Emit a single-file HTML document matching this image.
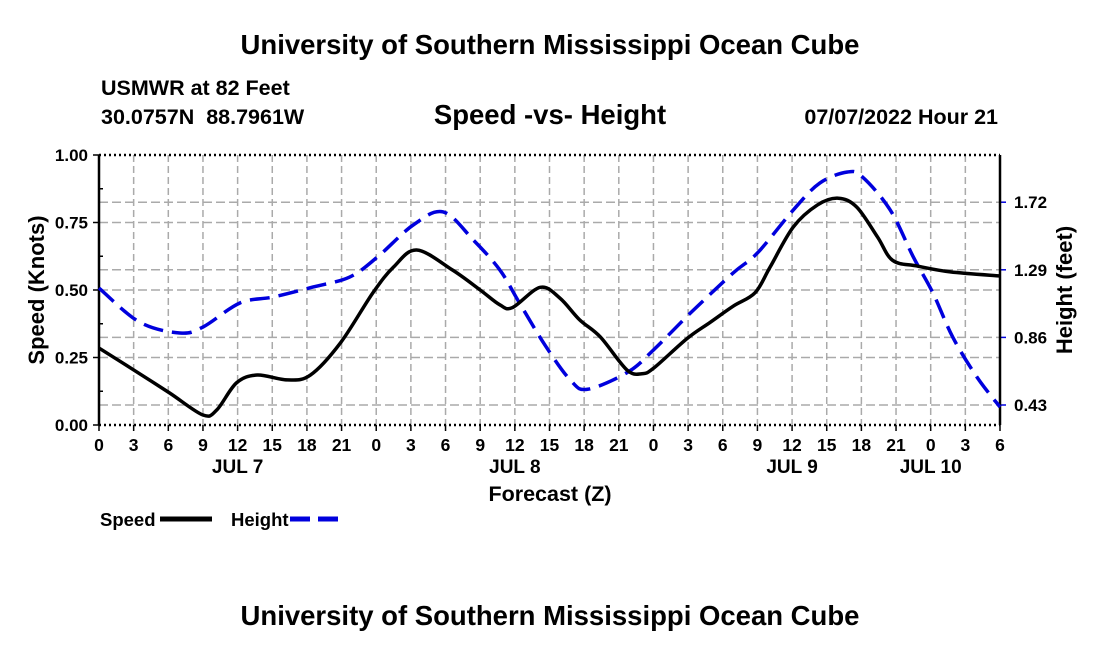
<!DOCTYPE html>
<html><head><meta charset="utf-8"><style>
body{margin:0;background:#fff;}
svg text{font-family:"Liberation Sans",Arial,sans-serif;font-weight:bold;fill:#000;}
</style></head><body>
<svg id="chart" width="1100" height="650" xmlns="http://www.w3.org/2000/svg">
<text x="550" y="54" text-anchor="middle" font-size="27.5">University of Southern Mississippi Ocean Cube</text>
<text x="101" y="95" font-size="21.5">USMWR at 82 Feet</text>
<text x="101" y="124" font-size="21.5">30.0757N&#160;&#160;88.7961W</text>
<text x="550" y="124" text-anchor="middle" font-size="27.5">Speed -vs- Height</text>
<text x="998" y="124" text-anchor="end" font-size="21.5">07/07/2022 Hour 21</text>
<g id="grid"></g>
<g id="axes"></g>
<g id="series"></g>
<text transform="translate(44,290) rotate(-90)" text-anchor="middle" font-size="22">Speed (Knots)</text>
<text transform="translate(1072,290) rotate(-90)" text-anchor="middle" font-size="22">Height (feet)</text>
<text x="550" y="501" text-anchor="middle" font-size="21.5">Forecast (Z)</text>
<g>
<text x="100" y="526" font-size="18.5">Speed</text>
<line x1="160" y1="519" x2="212" y2="519" stroke="#000" stroke-width="5"/>
<text x="231" y="526" font-size="18.5">Height</text>
<line x1="290" y1="519" x2="342" y2="519" stroke="#0000dd" stroke-width="5" stroke-dasharray="20,8"/>
</g>
<text x="550" y="625" text-anchor="middle" font-size="27.5">University of Southern Mississippi Ocean Cube</text>
</svg>
<script>
const xTickLabels=["0","3","6","9","12","15","18","21","0","3","6","9","12","15","18","21","0","3","6","9","12","15","18","21","0","3","6"];
const dayLabels=["JUL 7","JUL 8","JUL 9","JUL 10"];
const dayHours=[12,36,60,72];
const speedTicks=[0,0.25,0.5,0.75,1.0];
const speedTickLabels=["0.00","0.25","0.50","0.75","1.00"];
const heightTicks=[0.43,0.86,1.29,1.72];
const speedHours=[0,3.0,6.1,9.0,10.2,11.9,13.7,16.3,18.3,20.9,23.7,25.5,27.5,30.6,33.0,34.7,35.8,38.2,39.9,41.6,43.4,45.7,47.0,48.0,50.9,52.9,54.9,56.8,58.1,60.1,62.2,64.0,65.6,67.4,68.7,70.8,73.7,78];
const speedValues=[0.285,0.204,0.119,0.037,0.056,0.156,0.185,0.167,0.185,0.304,0.489,0.585,0.648,0.574,0.5,0.445,0.435,0.51,0.47,0.39,0.326,0.204,0.19,0.21,0.32,0.38,0.44,0.49,0.585,0.733,0.815,0.84,0.807,0.696,0.61,0.589,0.567,0.552];
const heightHours=[0,3.5,7.0,9.0,12.2,15.1,18.5,21.7,24.1,27.2,29.8,32.4,34.7,36.4,38.6,40.8,42.3,45.8,48.0,51.2,54.9,57.0,60.1,62.4,64.8,66.1,68.5,70.5,72.2,73.9,76.0,78];
const heightValues=[1.174,0.958,0.888,0.926,1.079,1.117,1.18,1.244,1.371,1.575,1.658,1.48,1.289,1.079,0.812,0.589,0.53,0.64,0.78,1.015,1.27,1.397,1.67,1.842,1.912,1.88,1.67,1.371,1.142,0.863,0.608,0.417];

const X0=99,X1=1000,Y0=425,Y1=155;
const x=h=>X0+(h/78)*(X1-X0);
const ys=v=>Y0-v*(Y0-Y1);
const H_PER_PX=0.43/67.6;
const yh=v=>405-(v-0.43)/H_PER_PX;
const NS="http://www.w3.org/2000/svg";
function mk(parent,tag,attrs){const e=document.createElementNS(NS,tag);for(const k in attrs)e.setAttribute(k,attrs[k]);parent.appendChild(e);return e;}
const grid=document.getElementById('grid'),axes=document.getElementById('axes'),series=document.getElementById('series');
xTickLabels.forEach((l,i)=>{const xx=x(i*3);
 if(i>0&&i<xTickLabels.length-1){const g=mk(grid,'line',{x1:xx,x2:xx,y1:Y1,y2:Y0,stroke:'#aaa','stroke-width':1.5,'stroke-dasharray':'7,4'});
 
 }
 const t=mk(axes,'line',{x1:xx,x2:xx,y1:Y0,y2:Y0+6,stroke:'#000','stroke-width':1.5});
 
 
 const tt=mk(axes,'text',{x:xx,y:451,'text-anchor':'middle','font-size':17.5});tt.textContent=l;
 
 
});
dayLabels.forEach((l,i)=>{const tt=mk(axes,'text',{x:x(dayHours[i]),y:473,'text-anchor':'middle','font-size':19});tt.textContent=l;
 
 });
speedTicks.forEach((v,i)=>{const yy=ys(v);
 if(i>0&&i<speedTicks.length-1){const g=mk(grid,'line',{x1:X0,x2:X1,y1:yy,y2:yy,stroke:'#aaa','stroke-width':1.5,'stroke-dasharray':'9,4'});
 
 }
 const t=mk(axes,'line',{x1:X0-6,x2:X0,y1:yy,y2:yy,stroke:'#000','stroke-width':1.5});
 
 
 const tt=mk(axes,'text',{x:X0-11,y:yy+6,'text-anchor':'end','font-size':17});tt.textContent=speedTickLabels[i];
 
 
});
[0.125,0.375,0.625,0.875].forEach(v=>{const t=mk(axes,'line',{x1:X0,x2:X0+4,y1:ys(v),y2:ys(v),stroke:'#000','stroke-width':1.5});
 
 });
heightTicks.forEach(v=>{const yy=yh(v);
 const g=mk(grid,'line',{x1:X0,x2:X1,y1:yy,y2:yy,stroke:'#aaa','stroke-width':1.5,'stroke-dasharray':'9,4'});
 
 
 const t=mk(axes,'line',{x1:X1,x2:X1+6,y1:yy,y2:yy,stroke:'#0000dd','stroke-width':1.5});
 
 
 const tt=mk(axes,'text',{x:X1+14,y:yy+6,'font-size':17});tt.textContent=v.toFixed(2);
 
 
});
[[X0,Y1,X1,Y1,'2,3'],[X0,Y0,X1,Y0,'2,3']].forEach(a=>{const l=mk(axes,'line',{x1:a[0],y1:a[1],x2:a[2],y2:a[3],stroke:'#000','stroke-width':2.5,'stroke-dasharray':a[4]});
 
 });
const la=mk(axes,'line',{x1:X0,y1:Y1,x2:X0,y2:Y0,stroke:'#000','stroke-width':2.5});


const ra=mk(axes,'line',{x1:X1,y1:Y1,x2:X1,y2:Y0,stroke:'#000','stroke-width':2.5});


function smooth(pts){let d=`M${pts[0][0]},${pts[0][1]}`;
 for(let i=0;i<pts.length-1;i++){const p0=pts[Math.max(0,i-1)],p1=pts[i],p2=pts[i+1],p3=pts[Math.min(pts.length-1,i+2)];
 d+=` C${p1[0]+(p2[0]-p0[0])/6},${p1[1]+(p2[1]-p0[1])/6} ${p2[0]-(p3[0]-p1[0])/6},${p2[1]-(p3[1]-p1[1])/6} ${p2[0]},${p2[1]}`;}
 return d;}
const hp=mk(series,'path',{d:smooth(heightHours.map((h,i)=>[x(h),yh(heightValues[i])])),fill:'none',stroke:'#0000dd','stroke-width':3.5,'stroke-dasharray':'20,9'});


const sp=mk(series,'path',{d:smooth(speedHours.map((h,i)=>[x(h),ys(speedValues[i])])),fill:'none',stroke:'#000','stroke-width':3.5});


</script>
</body></html>
